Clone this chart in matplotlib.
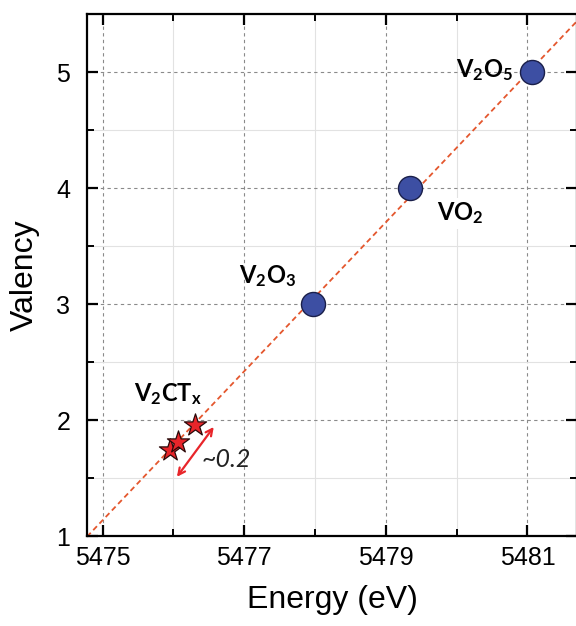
import numpy as np
import matplotlib
matplotlib.use("Agg")
import matplotlib.pyplot as plt
from matplotlib.ticker import MultipleLocator

plt.rcParams['font.family'] = ['Liberation Sans', 'DejaVu Sans']
plt.rcParams['mathtext.fontset'] = 'custom'
plt.rcParams['mathtext.bf'] = 'Lato:bold'
plt.rcParams['mathtext.rm'] = 'Lato'
plt.rcParams['mathtext.it'] = 'Lato:italic'

# Data
oxide_names = [r'$\mathbf{V_2O_3}$', r'$\mathbf{VO_2}$', r'$\mathbf{V_2O_5}$']
oxide_energy = [5477.97, 5479.34, 5481.07]
oxide_valency = [3, 4, 5]
mxene_energy = [5475.95, 5476.07, 5476.30]
mxene_valency = [1.74, 1.81, 1.96]
mxene_name = r'$\mathbf{V_2CT_x}$'
shift_label = '~0.2'
xticks = [5475, 5477, 5479, 5481]
yticks = [1, 2, 3, 4, 5]

fig = plt.figure(figsize=(5.76, 6.26), dpi=100)
ax = fig.add_axes([87/576, 90/626, 490/576, 522/626])

xlim = (5474.78, 5481.70)
ylim = (1, 5.5)
ax.set_xlim(*xlim)
ax.set_ylim(*ylim)

# Grid
ax.set_xticks(xticks)
ax.set_yticks(yticks)
ax.xaxis.set_minor_locator(MultipleLocator(1))
ax.yaxis.set_minor_locator(MultipleLocator(0.5))
ax.grid(which='major', color='#8a8a8a', linestyle=(0, (3, 3)), linewidth=0.8)
ax.grid(which='minor', color='#e2e2e2', linestyle='-', linewidth=0.8)
ax.set_axisbelow(True)

# Linear fit line through oxides
coef = np.polyfit(oxide_energy, oxide_valency, 1)
xx = np.array(xlim)
ax.plot(xx, np.polyval(coef, xx), color='#e4572e', linestyle=(0, (3, 2)),
        linewidth=1.3, zorder=2)

# Markers
ax.scatter(oxide_energy, oxide_valency, s=300, color='#3d4fa3',
           edgecolors='#1a1f4a', linewidths=1.0, zorder=4)
ax.scatter(mxene_energy, mxene_valency, s=280, marker='*', color='#e8252a',
           edgecolors='#2a0a0a', linewidths=0.9, zorder=5)

# Labels
ax.text(5477.97 - 1.05, 3.18, oxide_names[0], fontsize=17, ha='left', va='baseline', zorder=6)
ax.text(5479.34 + 0.38, 3.72, oxide_names[1], fontsize=17, ha='left', va='baseline', zorder=6,
        bbox=dict(facecolor='white', edgecolor='none', pad=2))
ax.text(5481.07 - 0.27, 4.96, oxide_names[2], fontsize=17, ha='right', va='baseline', zorder=6)
ax.text(5475.45, 2.16, mxene_name, fontsize=17, ha='left', va='baseline', zorder=6)

# Arrow and annotation
ax.annotate('', xy=(5476.05, 1.51), xytext=(5476.57, 1.94),
            arrowprops=dict(arrowstyle='<->', color='#e8252a', lw=1.6,
                            mutation_scale=12, shrinkA=0, shrinkB=0), zorder=6)
ax.text(5476.40, 1.66, shift_label, fontsize=18, style='italic', ha='left', va='center',
        family=['Lato'], color='#222222')

# Ticks & spines
ax.tick_params(which='both', direction='in', top=True, right=True, labelsize=18)
ax.tick_params(which='major', length=8, width=1.6, pad=7)
ax.tick_params(which='minor', length=5, width=1.4)
ax.tick_params(axis='y', which='major', pad=12)
for s in ax.spines.values():
    s.set_linewidth(1.6)

ax.set_xlabel('Energy (eV)', fontsize=23, labelpad=11)
ax.set_ylabel('Valency', fontsize=23, labelpad=12)

fig.savefig('out.png', dpi=100)
